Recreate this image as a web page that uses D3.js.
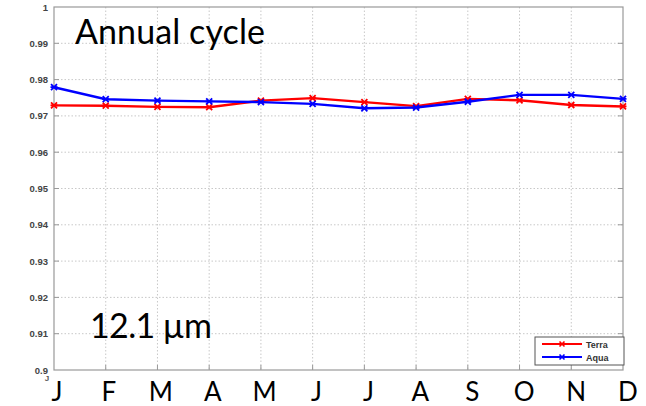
<!DOCTYPE html>
<html><head><meta charset="utf-8">
<script src="https://cdn.jsdelivr.net/npm/d3@7"></script>
<style>body{margin:0;background:#fff}svg{display:block}</style>
</head><body>
<svg id="c" width="646" height="406"></svg>
<script>
const months = ["J","F","M","A","M","J","J","A","S","O","N","D"];
const terra = [0.9729,0.9728,0.9725,0.9724,0.9742,0.9749,0.9738,0.9727,0.9747,0.9743,0.9730,0.9726];
const aqua  = [0.9779,0.9746,0.9742,0.9740,0.9738,0.9733,0.9721,0.9723,0.9739,0.9758,0.9758,0.9747];
const yTicks = [0.9,0.91,0.92,0.93,0.94,0.95,0.96,0.97,0.98,0.99,1];
const seriesNames = ["Terra","Aqua"];
const seriesColors = ["#ff0000","#0000ff"];

const svg = d3.select("#c");
const L=54, R=623, T=7, B=370;
const x = d3.scaleLinear().domain([0,11]).range([L,R]);
const y = d3.scaleLinear().domain([0.9,1]).range([B,T]);
const xl = d3.scaleLinear().domain([0,11]).range([57,628]);

// grid
const g = svg.append("g");
g.selectAll(".gy").data(yTicks.slice(1,-1)).join("line")
 .attr("x1",L).attr("x2",R).attr("y1",d=>y(d)).attr("y2",d=>y(d))
 .attr("stroke","#c8c8c8").attr("stroke-width",1).attr("stroke-dasharray","1.5,2");
g.selectAll(".gx").data(d3.range(1,11)).join("line")
 .attr("y1",T).attr("y2",B).attr("x1",d=>x(d)).attr("x2",d=>x(d))
 .attr("stroke","#c8c8c8").attr("stroke-width",1).attr("stroke-dasharray","1.5,2");

// axes
const ya = d3.axisLeft(y).tickValues(yTicks).tickFormat(d=>d3.format("")(+d.toFixed(2))).tickSize(0).tickPadding(6);
const yg = svg.append("g").attr("transform",`translate(${L},0)`).call(ya);
yg.select(".domain").remove();
yg.selectAll("text").attr("font-family","Liberation Sans, Arial").attr("font-size",9.5).attr("font-weight","bold").attr("fill","#444");
// box
svg.append("rect").attr("x",L).attr("y",T).attr("width",R-L).attr("height",B-T)
 .attr("fill","none").attr("stroke","#999").attr("stroke-width",1.2);
// small ticks
svg.selectAll(".tb").data(d3.range(1,11)).join("line")
 .attr("x1",d=>x(d)).attr("x2",d=>x(d)).attr("y1",B).attr("y2",B-5).attr("stroke","#999");
svg.selectAll(".tr").data(yTicks.slice(1,-1)).join("line")
 .attr("x1",R).attr("x2",R-5).attr("y1",d=>y(d)).attr("y2",d=>y(d)).attr("stroke","#999");
svg.selectAll(".tl").data(yTicks.slice(1,-1)).join("line")
 .attr("x1",L).attr("x2",L+5).attr("y1",d=>y(d)).attr("y2",d=>y(d)).attr("stroke","#999");

// lines
const line = d3.line().x((d,i)=>x(i)).y(d=>y(d));
[terra,aqua].forEach((s,k)=>{
  svg.append("path").datum(s).attr("d",line).attr("fill","none")
   .attr("stroke",seriesColors[k]).attr("stroke-width",2.4);
  svg.selectAll(null).data(s).join("path")
   .attr("transform",(d,i)=>`translate(${x(i)},${y(d)})`)
   .attr("d","M-3,-3L3,3M-3,3L3,-3M-3.5,0L3.5,0")
   .attr("stroke",seriesColors[k]).attr("stroke-width",1.8);
});

// month labels
svg.selectAll(".ml").data(months).join("text")
 .attr("x",(d,i)=>xl(i)).attr("y",401).attr("text-anchor","middle")
 .attr("font-family","Lato, sans-serif").attr("font-size",26).attr("fill","#000").text(d=>d);
svg.append("text").attr("x",47).attr("y",381).attr("text-anchor","middle")
 .attr("font-family","Liberation Sans, Arial").attr("font-size",8).attr("font-weight","bold").attr("fill","#555").text("J");

// annotations
svg.append("text").attr("x",75).attr("y",44).attr("font-family","Lato, sans-serif")
 .attr("font-size",34).attr("textLength",190).attr("fill","#000").text("Annual cycle");
svg.append("text").attr("x",90).attr("y",338).attr("font-family","Lato, sans-serif")
 .attr("font-size",34).attr("textLength",122).attr("fill","#000").text("12.1 µm");

// legend
const lg = svg.append("g");
lg.append("rect").attr("x",535).attr("y",337).attr("width",89).attr("height",28)
 .attr("fill","#fff").attr("stroke","#555").attr("stroke-width",1);
seriesNames.forEach((n,k)=>{
  const yy = 344 + k*13;
  lg.append("line").attr("x1",542).attr("x2",582).attr("y1",yy).attr("y2",yy)
   .attr("stroke",seriesColors[k]).attr("stroke-width",2);
  lg.append("path").attr("transform",`translate(562,${yy})`).attr("d","M-2.5,-2.5L2.5,2.5M-2.5,2.5L2.5,-2.5")
   .attr("stroke",seriesColors[k]).attr("stroke-width",1.6);
  lg.append("text").attr("x",586).attr("y",yy+3.5).attr("font-family","Liberation Sans, Arial")
   .attr("font-size",9).attr("font-weight","bold").attr("fill","#333").text(n);
});
</script>
</body></html>
